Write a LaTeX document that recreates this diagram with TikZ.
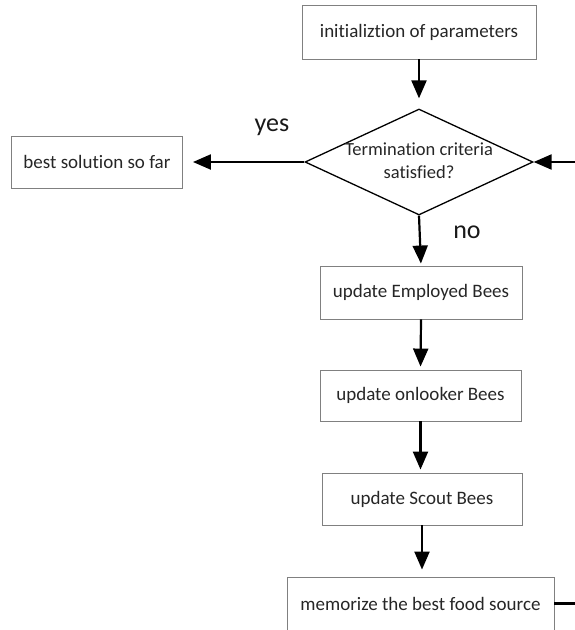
\documentclass[tikz,border=0pt]{standalone}
\usepackage{fontspec}
\setmainfont{Carlito}[Ligatures={NoCommon,NoContextual}]
\usepackage{tikz}
\usetikzlibrary{arrows.meta, shapes.geometric}
\tikzset{
  blk/.style ={rectangle, draw=black!50, line width=0.9pt, align=center, inner sep=0pt, text=black!85, font=\fontsize{19}{22}\selectfont},
  dec/.style ={diamond, draw=black, line width=1.3pt, inner sep=0pt, minimum width=228pt, minimum height=106pt, text=black!85, font=\fontsize{18.5}{23}\selectfont},
  fl/.style  ={-{Triangle[length=18pt, width=15pt]}, line width=2.2pt},
  lbl/.style ={font=\fontsize{26}{30}\selectfont, text=black!90, inner sep=0pt},
}

\begin{document}
\begin{tikzpicture}[x=1pt, y=-1pt]
\useasboundingbox (0,0) rectangle (575,630);

% flow boxes
\node[blk, minimum width=234pt, minimum height=54pt] (init) at (419,32) {initializtion of parameters};
\node[dec] (crit) at (419,162) {\makebox[0pt]{\raisebox{-2.5pt}{\begin{tabular}{@{}c@{}}Termination criteria\\ satisfied?\end{tabular}}}};
\node[blk, minimum width=171pt, minimum height=52pt] (best) at (97,162) {best solution so far};
\node[blk, minimum width=202pt, minimum height=53pt] (emp) at (421,292.5) {update Employed Bees};
\node[blk, minimum width=201pt, minimum height=51pt] (onl) at (420.5,395.5) {update onlooker Bees};
\node[blk, minimum width=200pt, minimum height=52pt] (sco) at (422,499) {update Scout Bees};
\node[blk, minimum width=267pt, minimum height=53pt] (mem) at (420.5,603.5) {memorize the best food source};

% branch labels
\node[lbl] (yes) at (272,127) {yes};
\node[lbl] (no) at (467,232) {no};

% loop ends at the right border
\coordinate (loopout) at (575,603.5);
\coordinate (loopin) at (575,162);

% connectors
\draw[fl, shorten >=10pt] (init.south) -- (init.south |- crit.north);
\draw[fl, shorten >=10pt] (crit.west) -- (best.east);
\draw[fl, shorten >=2pt] (crit.south) -- (emp.north);
\draw[fl, shorten >=3pt] (emp.south) -- (onl.north);
\draw[fl, shorten >=3pt] (onl.south) -- (onl.south |- sco.north);
\draw[fl, shorten >=7pt] (sco.south) -- (sco.south |- mem.north);
\draw[line width=2.2pt] (mem.east) -- (loopout);
\draw[fl] (loopin) -- (crit.east);

\end{tikzpicture}
\end{document}
